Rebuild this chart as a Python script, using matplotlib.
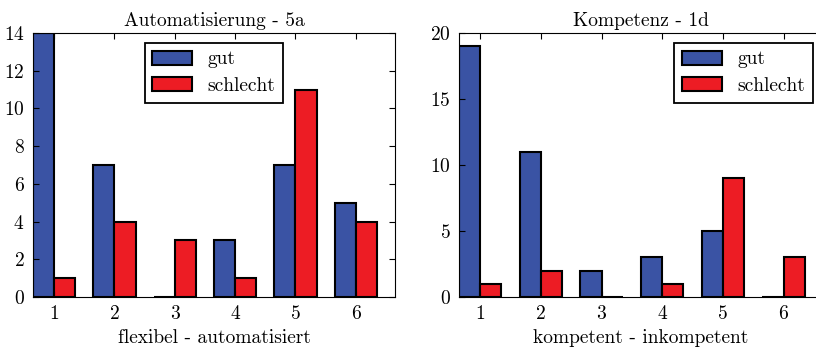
import numpy as np
import matplotlib
matplotlib.use("Agg")
import matplotlib.pyplot as plt

plt.rcParams["font.family"] = ["cmr10", "DejaVu Serif"]
plt.rcParams["mathtext.fontset"] = "cm"
plt.rcParams["axes.formatter.use_mathtext"] = True
plt.rcParams["xtick.direction"] = "in"
plt.rcParams["ytick.direction"] = "in"
plt.rcParams["xtick.top"] = True
plt.rcParams["ytick.right"] = True
plt.rcParams["xtick.major.size"] = 4
plt.rcParams["ytick.major.size"] = 4

# data
categories = [1, 2, 3, 4, 5, 6]
labels = ["gut", "schlecht"]

auto_gut = [14, 7, 0, 3, 7, 5]
auto_schlecht = [1, 4, 3, 1, 11, 4]

komp_gut = [19, 11, 2, 3, 5, 0]
komp_schlecht = [1, 2, 0, 1, 9, 3]

BLUE = "#3a53a4"
RED = "#ed1c24"
width = 0.35
FS = 14

fig = plt.figure(figsize=(8.16, 3.48), dpi=100)
ax1 = fig.add_axes([0.0404, 0.1466, 0.4436, 0.7586])
ax2 = fig.add_axes([0.5625, 0.1466, 0.446, 0.7586])


def draw(ax, gut, schlecht, title, xlabel, ymax, yticks, legend_loc):
    ind = np.arange(len(categories))
    ax.bar(ind, gut, width, align="edge", color=BLUE, edgecolor="black",
           linewidth=1.5, label=labels[0])
    ax.bar(ind + width, schlecht, width, align="edge", color=RED,
           edgecolor="black", linewidth=1.5, label=labels[1])
    ax.set_xlim(0, 6)
    ax.set_ylim(0, ymax)
    ax.set_yticks(yticks)
    ax.set_xticks(ind + width)
    ax.set_xticklabels([str(c) for c in categories])
    ax.tick_params(labelsize=FS, pad=6)
    ax.set_title(title, fontsize=FS, pad=5)
    ax.set_xlabel(xlabel, fontsize=FS, labelpad=4)
    leg = ax.legend(loc=legend_loc, fontsize=FS, fancybox=False,
                    handlelength=2.05, handleheight=0.72,
                    labelspacing=0.45, borderaxespad=0.5, framealpha=1)
    leg.get_frame().set_edgecolor("black")
    leg.get_frame().set_linewidth(1.3)


draw(ax1, auto_gut, auto_schlecht, "Automatisierung - 5a",
     "flexibel - automatisiert", 14, range(0, 15, 2), "upper center")
draw(ax2, komp_gut, komp_schlecht, "Kompetenz - 1d",
     "kompetent - inkompetent", 20, range(0, 21, 5), "upper right")

fig.savefig("out.png", dpi=100)
